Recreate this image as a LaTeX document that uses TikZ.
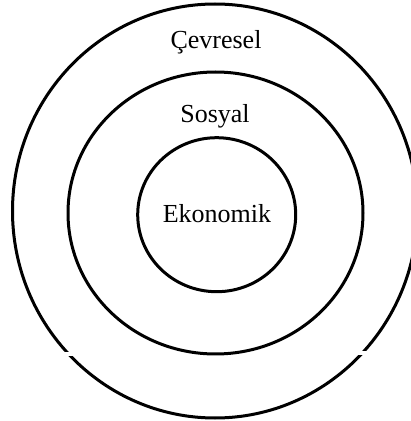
\documentclass[tikz,border=0pt]{standalone}
\usepackage{fontspec}
\setmainfont{Liberation Serif}
\begin{document}
\begin{tikzpicture}[x=1pt,y=1pt,
  ring/.style={line width=3pt, draw=black},
  lbl/.style={font=\fontsize{26}{28}\selectfont, inner sep=0pt, anchor=base}]
\useasboundingbox (0,0) rectangle (411,421);
\draw[ring] (215,210) ellipse [x radius=202.5, y radius=207];
\draw[ring] (215.5,208) ellipse [x radius=147.5, y radius=141];
\draw[ring] (216.7,206.3) ellipse [x radius=79, y radius=77];
% small white gaps on the outer ring
\fill[white] (58,65) rectangle (78,69);
\fill[white] (352,66) rectangle (372,70);
\node[lbl] (cev) at (216,372) {Çevresel};
\node[lbl] (sos) at (215,298) {Sosyal};
\node[lbl] (eko) at (217,198) {Ekonomik};
\end{tikzpicture}
\end{document}
